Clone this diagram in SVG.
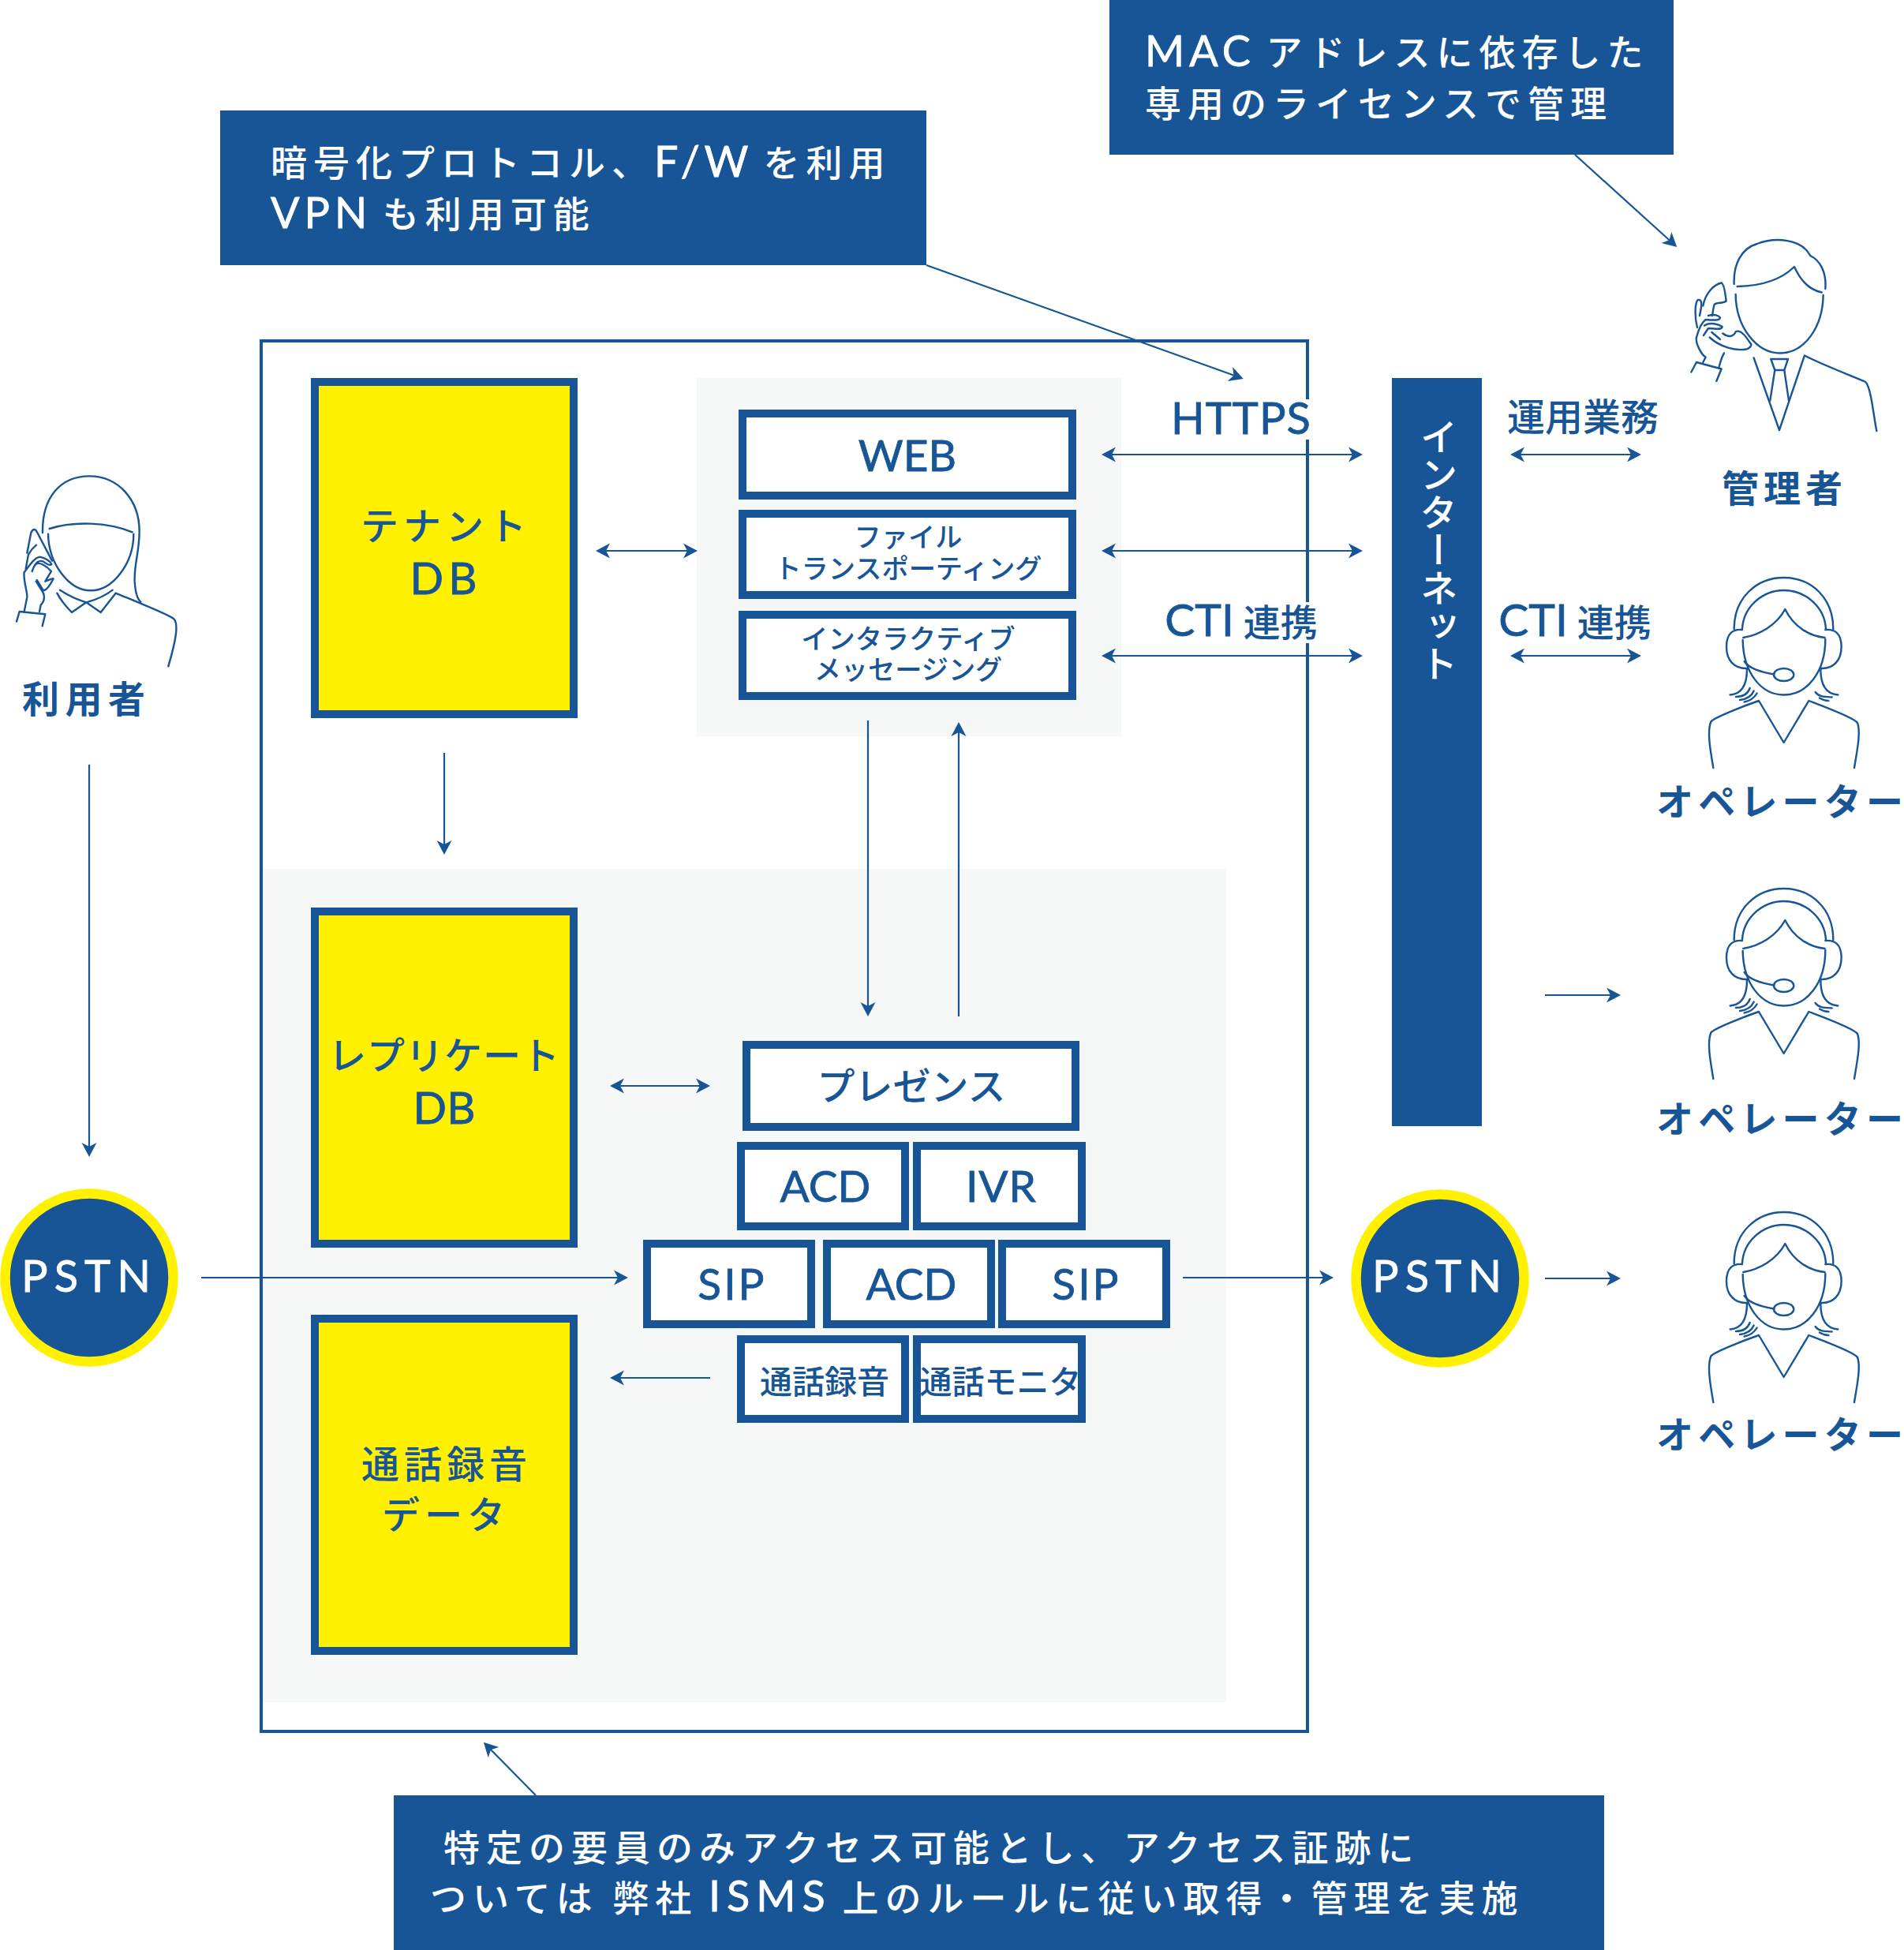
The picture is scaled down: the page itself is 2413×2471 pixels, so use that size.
<svg xmlns="http://www.w3.org/2000/svg" xmlns:xlink="http://www.w3.org/1999/xlink" width="2413" height="2471" viewBox="0 0 2413 2471">
<style>
text{font-family:Lato,"Noto Sans CJK JP",sans-serif;fill:#175596}
.w{fill:#fff}
.cal{font-size:46px;letter-spacing:8px;font-weight:500;fill:#fff;word-spacing:-6px}
.l{font-size:54px;font-weight:400;stroke:#175596;stroke-width:.8px}
.cal .l,.w.t{stroke:#fff;stroke-width:.8px}
.who{font-size:47px;font-weight:700;letter-spacing:6.200px}
.last{letter-spacing:0}
.db{font-size:48px;letter-spacing:6px;font-weight:500;text-anchor:middle}
.box{font-size:55px;text-anchor:middle;stroke:#175596;stroke-width:.8px}
.sm{font-size:34.200px;text-anchor:middle;font-weight:500}
.jp{font-size:47px;font-weight:500}
.b{fill:#fff;stroke:#175596;stroke-width:10}
.y{fill:#fff100;stroke:#175596;stroke-width:10}
.p{fill:#f6f8f7}
.c{fill:#175596}
.fig path,.fig ellipse{fill:none;stroke:#175596;stroke-width:2.4;stroke-linecap:round;stroke-linejoin:round;vector-effect:non-scaling-stroke}
.a{fill:none;stroke:#175596;stroke-width:2.2}
.s{marker-end:url(#h)}
.d{marker-end:url(#h);marker-start:url(#h)}
#frame{fill:none;stroke:#175596;stroke-width:4}
</style>
<defs>
<marker id="h" markerUnits="userSpaceOnUse" markerWidth="20" markerHeight="22" viewBox="0 0 20 22" refX="15" refY="11" orient="auto-start-reverse"><path d="M0,1.5 L18,11 L0,20.5 L5,11 Z" fill="#175596"/></marker>
<g id="opfig" class="fig">
<path d="M443,1040 C443,960 530,910 632,910 C735,910 820,960 820,1040"/>
<path d="M474,1040 C478,985 550,942 632,942 C715,942 788,985 792,1040"/>
<path d="M478,1062 C540,1055 605,1030 637,990 C670,1035 730,1058 788,1062"/>
<path d="M476,1068 C478,1150 545,1207 632,1207 C720,1207 790,1150 790,1066"/>
<path d="M474,1042 C440,1040 414,1050 414,1085 C414,1120 445,1142 494,1140"/>
<path d="M790,1042 C825,1040 851,1050 851,1085 C851,1120 820,1142 772,1140"/>
<path d="M482,1122 C500,1140 540,1148 595,1155"/>
<ellipse cx="632" cy="1156" rx="38" ry="16"/>
<path d="M492,1142 C492,1185 470,1205 428,1207"/>
<path d="M450,1212 C480,1212 495,1205 503,1190"/>
<path d="M465,1220 C490,1218 510,1210 518,1197"/>
<path d="M482,1225 C505,1222 522,1212 530,1203"/>
<path d="M772,1142 C772,1185 795,1205 838,1207"/>
<path d="M752,1200 C765,1212 785,1212 815,1213"/>
<path d="M768,1215 C780,1220 790,1222 802,1222"/>
<path d="M364,1392 C352,1345 340,1300 355,1275 C365,1265 480,1235 537,1222 L632,1328 L727,1222 C790,1238 900,1265 912,1278 C925,1300 912,1345 900,1392"/>
</g>
</defs>

<g id="panels">
<rect class="p" x="883" y="479" width="538" height="454"/>
<rect class="p" x="333" y="1101" width="1221" height="1056"/>
</g>
<path id="frame" d="M1657,506 V432 H331 V2194 H1657 V815 M1657,763 V557"/>

<g id="connectors">
<path class="a s" d="M113,969 V1463"/>
<path class="a s" d="M255,1619 H793"/>
<path class="a s" d="M1499,1619 H1687"/>
<path class="a s" d="M1958,1620 H2051"/>
<path class="a s" d="M1958,1261 H2051"/>
<path class="a d" d="M1399,576 H1724"/>
<path class="a d" d="M1399,698 H1724"/>
<path class="a d" d="M1399,831 H1724"/>
<path class="a d" d="M758,698 H881"/>
<path class="a d" d="M1917,576 H2077"/>
<path class="a d" d="M1917,831 H2077"/>
<path class="a s" d="M563,954 V1080"/>
<path class="a d" d="M776,1376 H897"/>
<path class="a s" d="M900,1746 H776"/>
<path class="a s" d="M1100,913 V1285"/>
<path class="a s" d="M1215,1288 V918"/>
<path class="a s" d="M1174,336 L1573,479"/>
<path class="a s" d="M1996,196 L2123,311"/>
<path class="a s" d="M679,2275 L615,2210"/>
</g>

<g id="callout-crypto">
<rect class="c" x="279" y="140" width="895" height="196"/>
<text class="cal" x="343" y="223">暗号化プロトコル、<tspan class="l" dy="1" style="letter-spacing:5.500px">F/W</tspan><tspan dy="-1"> を利用</tspan></text>
<text class="cal" x="343" y="288"><tspan class="l" dy="1" style="letter-spacing:6px">VPN</tspan><tspan dy="-1"> も利用可能</tspan></text>
</g>
<g id="callout-mac">
<rect class="c" x="1406" y="0" width="715" height="196"/>
<text class="cal" x="1451" y="83"><tspan class="l" dy="1" style="letter-spacing:6px">MAC</tspan><tspan dy="-1"> アドレスに依存した</tspan></text>
<text class="cal" x="1451" y="148">専用のライセンスで管理</text>
</g>
<g id="callout-isms">
<rect class="c" x="499" y="2275" width="1534" height="196"/>
<text class="cal" x="562" y="2358">特定の要員のみアクセス可能とし、アクセス証跡に</text>
<text class="cal" x="545" y="2422">ついては <tspan dx="4">弊社</tspan> <tspan class="l">ISMS</tspan> 上のルールに従い取得・管理を実施</text>
</g>

<g id="db-tenant"><rect class="y" x="399" y="484" width="328" height="421"/>
<text class="db" x="565" y="684">テナント</text><text class="db" x="565" y="753"><tspan class="l" style="font-size:56px">DB</tspan></text></g>
<g id="db-replica"><rect class="y" x="399" y="1155" width="328" height="421"/>
<text class="db" x="563" y="1355" style="letter-spacing:1px">レプリケート</text><text class="db" x="563" y="1424" style="letter-spacing:0"><tspan class="l" style="font-size:56px">DB</tspan></text></g>
<g id="db-record"><rect class="y" x="399" y="1671" width="328" height="421"/>
<text class="db" x="566" y="1873">通話録音</text><text class="db" x="565" y="1937">データ</text></g>

<g id="web"><rect class="b" x="941" y="524" width="418" height="104"/><text class="box" x="1150" y="597">WEB</text></g>
<g id="file"><rect class="b" x="941" y="651" width="418" height="103"/><text class="sm" x="1151" y="693">ファイル</text><text class="sm" x="1151" y="733">トランスポーティング</text></g>
<g id="im"><rect class="b" x="941" y="779" width="418" height="103"/><text class="sm" x="1151" y="822">インタラクティブ</text><text class="sm" x="1151" y="861">メッセージング</text></g>
<g id="presence"><rect class="b" x="946" y="1324" width="417" height="104"/><text class="jp" x="1155" y="1394" text-anchor="middle" style="font-size:48px">プレゼンス</text></g>
<g id="acd1"><rect class="b" x="939" y="1452" width="208" height="102"/><text class="box" x="1046" y="1523">ACD</text></g>
<g id="ivr"><rect class="b" x="1162" y="1452" width="209" height="102"/><text class="box" x="1269" y="1523" style="letter-spacing:1px">IVR</text></g>
<g id="sip1"><rect class="b" x="820" y="1576" width="208" height="102"/><text class="box" x="928" y="1647" style="letter-spacing:3px">SIP</text></g>
<g id="acd2"><rect class="b" x="1048" y="1576" width="208" height="102"/><text class="box" x="1155" y="1647">ACD</text></g>
<g id="sip2"><rect class="b" x="1270" y="1576" width="208" height="102"/><text class="box" x="1377" y="1647" style="letter-spacing:3px">SIP</text></g>
<g id="rec"><rect class="b" x="939" y="1697" width="208" height="101"/><text class="jp" x="1045" y="1766" text-anchor="middle" style="font-size:41px">通話録音</text></g>
<g id="mon"><rect class="b" x="1162" y="1697" width="209" height="101"/><text class="jp" x="1268" y="1766" text-anchor="middle" style="font-size:41px">通話モニタ</text></g>

<g id="internet"><rect class="c" x="1764" y="479" width="114" height="948"/>
<text class="jp w" x="1821" y="529" style="writing-mode:vertical-rl;font-size:48px">インターネット</text></g>

<g id="pstn-l"><circle cx="113" cy="1619" r="106.500" fill="#175596" stroke="#fff100" stroke-width="12.500"/><text x="113" y="1637" text-anchor="middle" class="w t" style="font-size:56px;letter-spacing:8px">PSTN</text></g>
<g id="pstn-r"><circle cx="1825" cy="1620" r="106.500" fill="#175596" stroke="#fff100" stroke-width="12.500"/><text x="1825" y="1637" text-anchor="middle" class="w t" style="font-size:56px;letter-spacing:8px">PSTN</text></g>

<g id="labels">
<text class="box" x="1573" y="550" style="font-size:56px;letter-spacing:1px">HTTPS</text>
<text x="1573" y="806" text-anchor="middle" class="jp"><tspan class="l" style="font-size:57px">CTI</tspan> 連携</text>
<text x="2006" y="546" text-anchor="middle" class="jp" style="font-size:48px">運用業務</text>
<text x="1996" y="806" text-anchor="middle" class="jp"><tspan class="l" style="font-size:57px">CTI</tspan> 連携</text>
</g>

<g id="user">
<g class="fig" transform="matrix(.3333 0 0 .3333 0 580)">
<path d="M162,285 C160,150 230,70 340,70 C450,70 530,160 530,280 C530,360 510,400 512,470 C515,520 525,540 535,548"/>
<path d="M188,270 C280,240 410,245 503,283"/>
<path d="M183,290 C185,400 260,505 345,505 C430,505 508,400 508,290"/>
<path d="M217,515 C235,550 255,570 273,588 L328,550 L383,588 L440,515"/>
<path d="M228,503 C270,530 295,540 328,550 C365,540 400,525 428,503"/>
<path d="M440,515 C500,540 640,595 660,612 C680,630 670,690 640,793"/>
<path d="M103,362 L118,285 C125,268 135,270 142,285 L198,392"/>
<path d="M98,422 L108,368 C118,350 128,340 138,332"/>
<path d="M92,435 C88,470 105,510 103,530 L92,585"/>
<path d="M95,432 C115,405 130,382 150,377 C170,380 190,392 196,405 C190,412 178,405 165,395 C150,388 135,395 122,432"/>
<path d="M135,405 C150,395 175,410 195,432 L172,470 L198,460"/>
<path d="M140,465 L165,505 C180,505 195,475 203,460"/>
<path d="M137,470 L165,515 C170,530 170,545 155,560 L150,585"/>
<path d="M63,623 L74,585 L172,595 L161,640"/>
</g>
<text class="who" x="28" y="903" style="letter-spacing:7.500px">利用者</text>
</g>

<g id="admin">
<g class="fig" transform="matrix(.3333 0 0 .5 2050 280)">
<path d="M443,160 C440,110 470,70 530,58 C600,40 700,45 733,88 C770,100 795,130 790,172"/>
<path d="M455,166 C540,165 620,150 672,116 C695,150 730,175 776,181"/>
<path d="M449,186 C450,270 530,335 618,335 C710,335 780,270 782,188"/>
<path d="M518,347 L615,530 L711,341 C780,365 900,395 943,408 C965,425 972,490 985,532"/>
<path d="M583,350 L648,350 L634,378 L598,378 Z"/>
<path d="M598,378 L580,455"/>
<path d="M634,378 L651,455"/>
<path d="M325,215 C335,180 370,160 395,157 C405,160 410,185 413,203 C400,210 375,205 368,212 C362,225 362,235 360,240"/>
<path d="M312,240 C322,210 322,198 305,200 C293,210 293,245 303,270"/>
<path d="M345,240 C370,235 385,240 390,245 C390,252 370,252 335,250 C318,258 308,275 300,295"/>
<path d="M330,265 C350,255 385,262 398,268 C395,278 370,272 345,272 L327,290"/>
<path d="M350,295 C390,320 450,330 490,325 C510,320 510,312 505,310 C490,295 470,275 450,280 C440,295 420,295 400,285"/>
<path d="M358,282 L390,300"/>
<path d="M300,295 C295,310 320,340 335,345 L325,358"/>
<path d="M405,335 C395,345 390,360 385,372"/>
<path d="M280,383 L300,358 L395,375 L376,406"/>
</g>
<text class="who" x="2182" y="636" style="letter-spacing:6px">管理者</text>
</g>

<g id="operator1"><use xlink:href="#opfig" href="#opfig" transform="matrix(.3333 0 0 .5 2050 277)"/><text class="who" x="2099" y="1033">オペレータ<tspan class="last">ー</tspan></text></g>
<g id="operator2"><use xlink:href="#opfig" href="#opfig" transform="matrix(.3333 0 0 .5 2050 671)"/><text class="who" x="2099" y="1435">オペレータ<tspan class="last">ー</tspan></text></g>
<g id="operator3"><use xlink:href="#opfig" href="#opfig" transform="matrix(.3333 0 0 .5 2050 1081)"/><text class="who" x="2099" y="1835">オペレータ<tspan class="last">ー</tspan></text></g>
</svg>
